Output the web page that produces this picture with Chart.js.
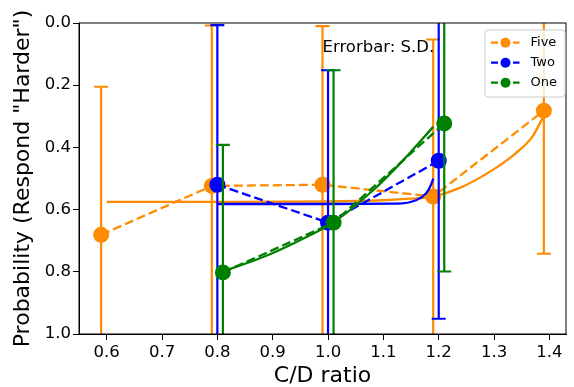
<!DOCTYPE html>
<html>
<head>
<meta charset="utf-8">
<script src="https://cdn.jsdelivr.net/npm/chart.js@4.4.1/dist/chart.umd.min.js"></script>
<style>
  body { margin: 0; background: #fff; }
  canvas { display: block; }
</style>
</head>
<body>
<canvas id="myChart" width="574" height="387"></canvas>
<script>
'use strict';

// measured points, each group shifted a little on x
let fiveX = [0.59, 0.79, 0.99, 1.19, 1.39];
let fiveY = [0.681, 0.524, 0.52, 0.558, 0.282];
let fiveSD = [0.476, 0.516, 0.51, 0.505, 0.46];

let twoX = [0.8, 1.0, 1.2];
let twoY = [0.52, 0.642, 0.443];
let twoSD = [0.513, 0.49, 0.508];

let oneX = [0.81, 1.01, 1.21];
let oneY = [0.802, 0.642, 0.323];
let oneSD = [0.41, 0.49, 0.476];

// fitted curves
let fiveFitX = [0.6, 0.8, 1.0, 1.1, 1.15, 1.19, 1.237, 1.297, 1.339, 1.369, 1.389];
let fiveFitY = [0.575, 0.575, 0.574, 0.570, 0.565, 0.558, 0.531, 0.473, 0.419, 0.366, 0.302];

let twoFitX = [0.8, 1.0, 1.124, 1.16, 1.177, 1.186, 1.19];
let twoFitY = [0.582, 0.582, 0.581, 0.569, 0.548, 0.521, 0.50];

let oneFitX = [0.8, 0.885, 0.962, 1.009, 1.082, 1.136, 1.19];
let oneFitY = [0.805, 0.751, 0.687, 0.642, 0.537, 0.441, 0.334];

let xTicks = [0.6, 0.7, 0.8, 0.9, 1.0, 1.1, 1.2, 1.3, 1.4];
let yTicks = [0, 0.2, 0.4, 0.6, 0.8, 1.0];

let orange = '#ff8c00';
let blue = '#0000ff';
let green = '#008000';

function toPoints(xs, ys) {
    let arr = [];
    for (let i = 0; i < xs.length; i++) {
        arr.push({ x: xs[i], y: ys[i] });
    }
    return arr;
}

function pointSet(label, xs, ys, sd, color, order) {
    return {
        label: label,
        data: toPoints(xs, ys),
        sd: sd,
        borderColor: color,
        backgroundColor: color,
        borderWidth: 2.3,
        borderDash: [9, 4],
        pointRadius: 8,
        pointBorderWidth: 0,
        pointBackgroundColor: color,
        tension: 0,
        order: order
    };
}

function fitSet(label, xs, ys, color, order) {
    return {
        label: label,
        data: toPoints(xs, ys),
        borderColor: color,
        borderWidth: 2.3,
        pointRadius: 0,
        cubicInterpolationMode: 'monotone',
        order: order
    };
}

// error bars are drawn just before their own series
let errorBars = {
    id: 'errorBars',
    beforeDatasetDraw(chart, args) {
        let ds = chart.data.datasets[args.index];
        if (!ds.sd) return;
        let ctx = chart.ctx;
        let xs = chart.scales.x;
        let ys = chart.scales.y;
        let area = chart.chartArea;
        ctx.save();
        ctx.beginPath();
        ctx.rect(area.left, area.top, area.right - area.left, area.bottom - area.top);
        ctx.clip();
        ctx.strokeStyle = ds.borderColor;
        ctx.lineWidth = 2.2;
        ctx.setLineDash([]);
        for (let i = 0; i < ds.data.length; i++) {
            let p = ds.data[i];
            let px = xs.getPixelForValue(p.x);
            let top = ys.getPixelForValue(p.y - ds.sd[i]);
            let bottom = ys.getPixelForValue(p.y + ds.sd[i]);
            ctx.beginPath();
            ctx.moveTo(px, top);
            ctx.lineTo(px, bottom);
            ctx.moveTo(px - 7, top);
            ctx.lineTo(px + 7, top);
            ctx.moveTo(px - 7, bottom);
            ctx.lineTo(px + 7, bottom);
            ctx.stroke();
        }
        ctx.restore();
    }
};

let legendItems = [['Five', orange], ['Two', blue], ['One', green]];

let extras = {
    id: 'extras',
    afterDraw(chart) {
        let ctx = chart.ctx;
        let area = chart.chartArea;
        let xs = chart.scales.x;
        let ys = chart.scales.y;

        // note text
        ctx.save();
        ctx.fillStyle = '#000';
        ctx.font = '16.5px "DejaVu Sans"';
        ctx.textBaseline = 'alphabetic';
        ctx.fillText('Errorbar: S.D.', xs.getPixelForValue(0.99), ys.getPixelForValue(0.093));
        ctx.restore();

        // frame
        ctx.save();
        ctx.strokeStyle = '#000';
        ctx.lineWidth = 1;
        ctx.strokeRect(area.left, area.top, area.right - area.left, area.bottom - area.top);
        ctx.restore();

        // legend box
        let bx = 485, by = 30, bw = 80, bh = 67, r = 3;
        ctx.save();
        ctx.beginPath();
        ctx.moveTo(bx + r, by);
        ctx.arcTo(bx + bw, by, bx + bw, by + bh, r);
        ctx.arcTo(bx + bw, by + bh, bx, by + bh, r);
        ctx.arcTo(bx, by + bh, bx, by, r);
        ctx.arcTo(bx, by, bx + bw, by, r);
        ctx.closePath();
        ctx.fillStyle = 'rgba(255,255,255,0.8)';
        ctx.fill();
        ctx.strokeStyle = '#cccccc';
        ctx.lineWidth = 1;
        ctx.stroke();

        ctx.font = '13px "DejaVu Sans"';
        ctx.textBaseline = 'middle';
        for (let i = 0; i < legendItems.length; i++) {
            let ly = by + 12.7 + i * 20;
            let color = legendItems[i][1];
            ctx.strokeStyle = color;
            ctx.lineWidth = 2.3;
            ctx.beginPath();
            ctx.moveTo(491, ly);
            ctx.lineTo(498, ly);
            ctx.moveTo(513, ly);
            ctx.lineTo(519.5, ly);
            ctx.stroke();
            ctx.fillStyle = color;
            ctx.beginPath();
            ctx.arc(505.5, ly, 5, 0, Math.PI * 2);
            ctx.fill();
            ctx.fillStyle = '#000';
            ctx.fillText(legendItems[i][0], 530.5, ly);
        }
        ctx.restore();
    }
};

Chart.defaults.font.family = '"DejaVu Sans"';
Chart.defaults.color = '#000';

let ctx = document.getElementById('myChart').getContext('2d');
let chart = new Chart(ctx, {
    type: 'line',
    data: {
        datasets: [
            pointSet('Five', fiveX, fiveY, fiveSD, orange, 60),
            fitSet('Five fit', fiveFitX, fiveFitY, orange, 50),
            pointSet('Two', twoX, twoY, twoSD, blue, 40),
            fitSet('Two fit', twoFitX, twoFitY, blue, 30),
            pointSet('One', oneX, oneY, oneSD, green, 20),
            fitSet('One fit', oneFitX, oneFitY, green, 10)
        ]
    },
    options: {
        responsive: false,
        animation: false,
        events: [],
        layout: { padding: { top: 23, right: 1, left: 0, bottom: 0 } },
        plugins: {
            legend: { display: false },
            tooltip: { enabled: false }
        },
        scales: {
            x: {
                type: 'linear',
                min: 0.55,
                max: 1.43,
                afterBuildTicks: function (scale) {
                    scale.ticks = xTicks.map(v => ({ value: v }));
                },
                afterFit: function (scale) {
                    scale.height = 53;
                    scale.paddingLeft = 0;
                    scale.paddingRight = 0;
                },
                grid: { drawOnChartArea: false, tickLength: 6, tickColor: '#000' },
                border: { color: '#000', width: 1 },
                ticks: {
                    color: '#000',
                    font: { size: 16.5 },
                    padding: 3,
                    maxRotation: 0,
                    autoSkip: false,
                    callback: v => v.toFixed(1)
                },
                title: {
                    display: true,
                    text: 'C/D ratio',
                    color: '#000',
                    font: { size: 22, lineHeight: 1 },
                    padding: { top: 0, bottom: 0 }
                }
            },
            y: {
                type: 'linear',
                reverse: true,
                min: 0,
                max: 1,
                afterBuildTicks: function (scale) {
                    scale.ticks = yTicks.map(v => ({ value: v }));
                },
                afterFit: function (scale) {
                    scale.width = 79;
                    scale.paddingTop = 0;
                    scale.paddingBottom = 0;
                },
                grid: { drawOnChartArea: false, tickLength: 6, tickColor: '#000' },
                border: { color: '#000', width: 1 },
                ticks: {
                    color: '#000',
                    font: { size: 16.5 },
                    padding: 2,
                    autoSkip: false,
                    callback: v => v.toFixed(1)
                },
                title: {
                    display: true,
                    text: 'Probability (Respond "Harder")',
                    color: '#000',
                    font: { size: 22, lineHeight: 1 },
                    padding: { top: 12, bottom: 0 }
                }
            }
        }
    },
    plugins: [errorBars, extras]
});
</script>
</body>
</html>
